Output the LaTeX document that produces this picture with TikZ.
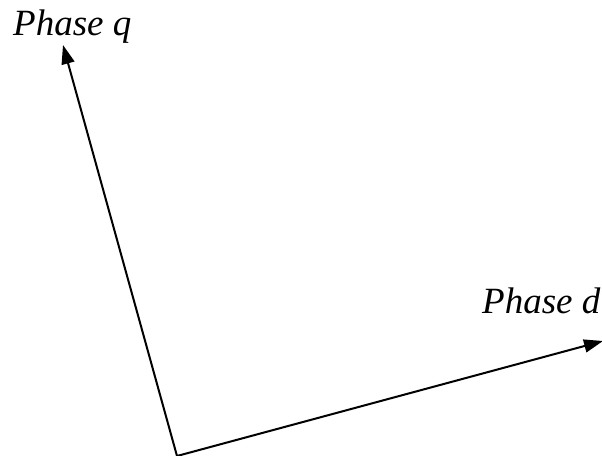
\documentclass[tikz,border=0pt]{standalone}
\usepackage{fontspec}
\setmainfont{Liberation Serif}
\usetikzlibrary{arrows.meta}
\begin{document}
\begin{tikzpicture}[x=1pt,y=-1pt,
  ax/.style={line width=2pt, -{Triangle[length=19pt,width=13pt]}},
  lbl/.style={font=\fontsize{37}{44}\selectfont\itshape, inner sep=0pt, anchor=base west}]
\useasboundingbox (0,0) rectangle (602,455);
\coordinate (o) at (177,456);
\coordinate (q) at (63,45);
\coordinate (d) at (603,341);
\draw[ax] (o) -- (q);
\draw[ax] (o) -- (d);
\node[lbl] (lq) at (13,35) {Phase q};
\node[lbl] (ld) at (482,313) {Phase d};
\end{tikzpicture}
\end{document}
